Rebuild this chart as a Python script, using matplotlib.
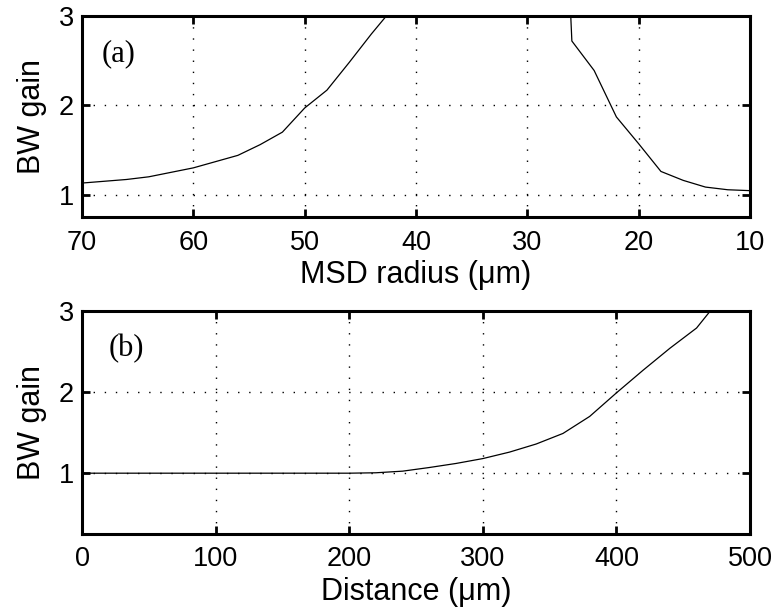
import numpy as np
import matplotlib
matplotlib.use("Agg")
import matplotlib.pyplot as plt

plt.rcParams['font.family'] = ['Liberation Sans', 'DejaVu Sans']

# (a) bandwidth gain against MSD radius
radius = [70, 68, 66, 64, 62, 60, 58, 56, 54, 52, 50, 48, 46, 44, 42, 40, 38, 36,
          34, 32, 30, 28, 26, 24, 22, 20, 18, 16, 14, 12, 10]
gain_radius = [1.13, 1.15, 1.17, 1.20, 1.25, 1.30, 1.37, 1.44, 1.56, 1.70, 1.97, 2.17,
               2.48, 2.80, 3.10, 3.60, 4.40, 5.50, 7.00, 8.50, 9.00, 8.30, 2.72, 2.39,
               1.87, 1.57, 1.26, 1.16, 1.085, 1.055, 1.045]

# (b) bandwidth gain against distance
distance = [0, 20, 40, 60, 80, 100, 120, 140, 160, 180, 200, 220, 240, 260, 280, 300,
            320, 340, 360, 380, 400, 420, 440, 460, 480, 500]
gain_distance = [1.0, 1.0, 1.0, 1.0, 1.0, 1.0, 1.0, 1.0, 1.0, 1.0, 1.0, 1.005, 1.025,
                 1.07, 1.12, 1.18, 1.26, 1.36, 1.49, 1.70, 1.99, 2.27, 2.54, 2.79,
                 3.20, 3.50]


def style_axes(ax):
    ax.grid(True, color='black', linestyle=(0, (1, 7)), linewidth=1)
    ax.tick_params(direction='in', top=True, right=True, length=6, width=2,
                   labelsize=19.5)
    ax.tick_params(axis='x', pad=9)
    ax.tick_params(axis='y', pad=6)
    for sp in ax.spines.values():
        sp.set_linewidth(2.2)


fig = plt.figure(figsize=(7.76, 6.11), dpi=100)
ax1 = fig.add_axes([82 / 776, 1 - 217 / 611, 668 / 776, 201 / 611])
ax2 = fig.add_axes([82 / 776, 1 - 534 / 611, 668 / 776, 223 / 611])

ax1.plot(radius, gain_radius, color='black', linewidth=0.9)
ax1.set_xlim(70, 10)
ax1.set_ylim(0.75, 3)
ax1.set_xticks([70, 60, 50, 40, 30, 20, 10])
ax1.set_yticks([1, 2, 3])
ax1.set_xlabel('MSD radius (μm)', fontsize=22, labelpad=3)
ax1.set_ylabel('BW gain', fontsize=22, labelpad=8)
ax1.text(0.03, 0.81, '(a)', transform=ax1.transAxes, fontsize=22,
         family='Liberation Serif', va='center')
style_axes(ax1)

ax2.plot(distance, gain_distance, color='black', linewidth=0.9)
ax2.set_xlim(0, 500)
ax2.set_ylim(0.25, 3)
ax2.set_xticks([0, 100, 200, 300, 400, 500])
ax2.set_yticks([1, 2, 3])
ax2.set_xlabel('Distance (μm)', fontsize=22, labelpad=3)
ax2.set_ylabel('BW gain', fontsize=22, labelpad=8)
ax2.text(0.04, 0.83, '(b)', transform=ax2.transAxes, fontsize=22,
         family='Liberation Serif', va='center')
style_axes(ax2)

fig.savefig('out.png', dpi=100)
